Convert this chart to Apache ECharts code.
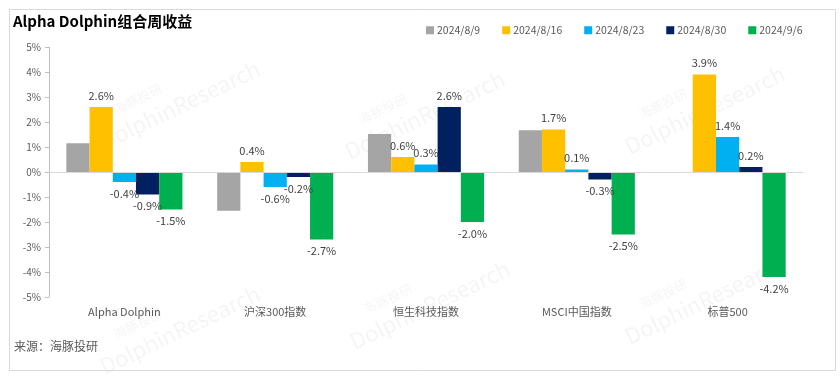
<!DOCTYPE html>
<html>
<head>
<meta charset="utf-8">
<script src="https://cdn.jsdelivr.net/npm/echarts@6/dist/echarts.min.js"></script>
<style>
  html, body { margin: 0; padding: 0; background: #fff; }
  #main { width: 840px; height: 376px; }
</style>
</head>
<body>
<div id="main"></div>
<script>
const categories = ['Alpha Dolphin', '沪深300指数', '恒生科技指数', 'MSCI中国指数', '标普500'];
const seriesNames = ['2024/8/9', '2024/8/16', '2024/8/23', '2024/8/30', '2024/9/6'];
const w0809 = [1.15, -1.55, 1.52, 1.67, -0.03];
const w0816 = [2.6, 0.4, 0.6, 1.7, 3.9];
const w0823 = [-0.4, -0.6, 0.3, 0.1, 1.4];
const w0830 = [-0.9, -0.2, 2.6, -0.3, 0.2];
const w0906 = [-1.5, -2.7, -2.0, -2.5, -4.2];
const colors = ['#A5A5A5', '#FFC000', '#00B0F0', '#002060', '#00B050'];
const showLabel = [false, true, true, true, true];

const font = '"Noto Sans CJK SC", "Noto Sans", sans-serif';
let chartDom = document.getElementById('main');
let myChart = echarts.init(chartDom);

const allData = [w0809, w0816, w0823, w0830, w0906];

function labelOpts(v, on) {
    return {
        show: on,
        position: v >= 0 ? 'top' : 'bottom',
        formatter: v.toFixed(1) + '%',
        color: '#404040',
        fontSize: 11,
        fontFamily: font,
        distance: 6
    };
}

const series = allData.map((arr, i) => ({
    name: seriesNames[i],
    type: 'bar',
    barGap: '0%',
    barCategoryGap: '23%',
    itemStyle: { color: colors[i] },
    data: arr.map(v => ({ value: v, label: labelOpts(v, showLabel[i]) })),
    markLine: i === 0 ? {
        silent: true,
        symbol: 'none',
        label: { show: false },
        lineStyle: { color: '#D9D9D9', type: 'solid', width: 1 },
        data: [{ yAxis: 0 }]
    } : undefined,
    z: 3
}));

// faint watermarks
const wm = [[175, 95], [175, 320], [420, 105], [425, 295], [700, 100], [700, 290]];
const graphics = [];
wm.forEach(p => {
    graphics.push({
        type: 'text', x: p[0], y: p[1], rotation: Math.PI / 7, z: 0,
        style: { text: 'DolphinResearch', fill: 'rgba(0,0,0,0.045)', font: '22px ' + font, textAlign: 'center' }
    });
    graphics.push({
        type: 'text', x: p[0] - 40, y: p[1] - 2, rotation: Math.PI / 7, z: 0,
        style: { text: '海豚投研', fill: 'rgba(0,0,0,0.045)', font: '13px ' + font, textAlign: 'center' }
    });
});
graphics.push({
    type: 'rect', left: 7, top: 7, z: 0,
    shape: { width: 826, height: 361 },
    style: { fill: 'none', stroke: '#D9D9D9', lineWidth: 1 }
});

let option = {
    backgroundColor: '#fff',
    title: [{
        text: 'Alpha Dolphin组合周收益',
        left: 8, top: 9,
        textStyle: { fontSize: 15, fontWeight: 'bold', color: '#000', fontFamily: font }
    }, {
        text: '来源：海豚投研',
        left: 9, top: 335,
        textStyle: { fontSize: 12, fontWeight: 'normal', color: '#595959', fontFamily: font }
    }],
    legend: {
        data: seriesNames,
        left: 421, top: 20,
        icon: 'rect', itemWidth: 8, itemHeight: 8, itemGap: 22,
        textStyle: { fontSize: 10.5, color: '#595959', fontFamily: font, padding: [0, 0, 0, -2] }
    },
    grid: { left: 49, right: 37, top: 47, bottom: 79 },
    xAxis: {
        type: 'category',
        data: categories,
        axisLine: { show: false, onZero: false },
        axisTick: { show: false },
        axisLabel: { color: '#595959', fontSize: 11, fontFamily: font, margin: 9 }
    },
    yAxis: {
        type: 'value',
        min: -5, max: 5, interval: 1,
        axisLine: { show: true, lineStyle: { color: '#BFBFBF' } },
        axisTick: { show: true, length: 4, lineStyle: { color: '#BFBFBF' } },
        splitLine: { show: false },
        axisLabel: { formatter: '{value}%', color: '#595959', fontSize: 10, fontFamily: font, margin: 8 }
    },
    graphic: graphics,
    series: series
};

option && myChart.setOption(option);
</script>
</body>
</html>
